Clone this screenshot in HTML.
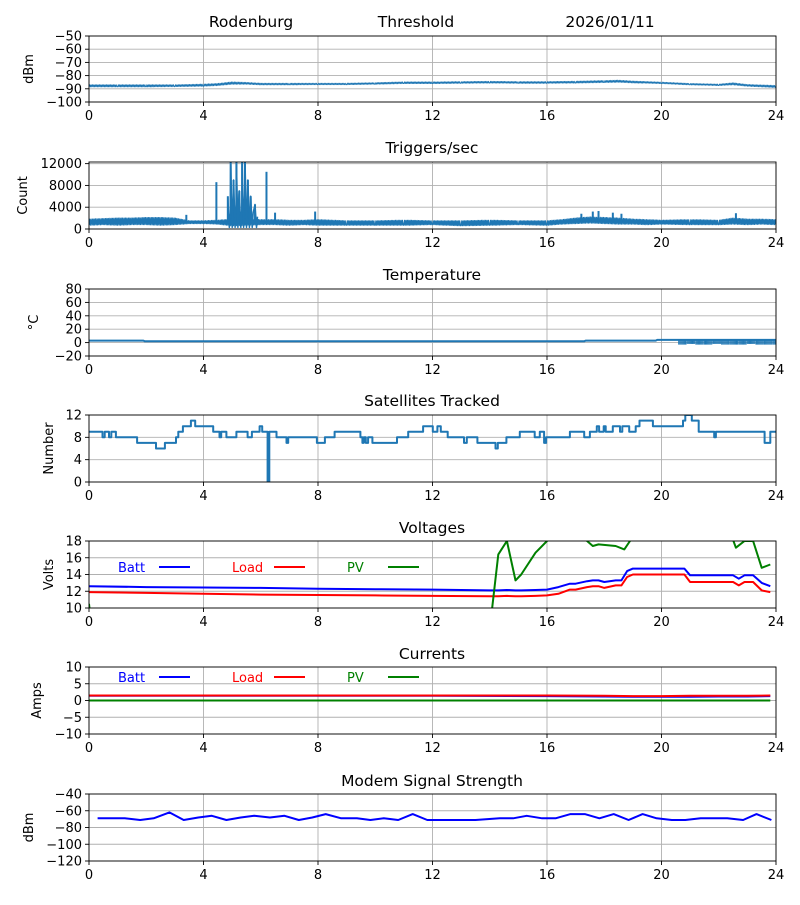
<!DOCTYPE html>
<html><head><meta charset="utf-8">
<style>
html,body{margin:0;padding:0;background:#fff;}
svg text{font-family:"DejaVu Sans","Liberation Sans",sans-serif;fill:#000;}
</style></head>
<body>
<svg id="fig" width="800" height="900" viewBox="0 0 800 900" xmlns="http://www.w3.org/2000/svg"></svg>
<script>
// ---------- DATA ----------
const xTicks = [0,4,8,12,16,20,24];
// Panel 1: threshold dBm band (hourly)
const dbmHours = [0,1,2,3,4,4.5,5,5.5,6,7,8,9,10,11,12,13,14,15,16,17,18,18.5,19,20,21,22,22.5,23,24];
const dbmLow   = [-88.5,-88.5,-88.5,-88.3,-88,-87.5,-86.5,-86.5,-87,-87,-86.8,-86.8,-86.5,-86,-86,-85.8,-85.6,-85.8,-85.8,-85.6,-85.2,-85,-85.5,-86,-87,-87.5,-87,-88,-89];
const dbmHigh  = [-87,-87,-87,-87,-86.5,-86,-84.8,-85.2,-85.8,-85.8,-85.8,-85.8,-85.4,-84.8,-84.8,-84.6,-84.4,-84.6,-84.6,-84.3,-83.8,-83.5,-84.2,-85,-86,-86.5,-85.5,-86.8,-87.5];
// Panel 2: triggers/sec band + spikes
const trigHours = [0,0.5,1,1.5,2,2.5,3,3.5,4,4.5,5,5.5,6,6.5,7,7.5,8,9,10,11,12,13,14,15,16,16.5,17,17.5,18,18.5,19,19.5,20,21,22,22.5,23,23.5,24];
const trigLow   = [700,800,700,800,800,700,800,1000,1000,900,600,700,800,800,700,800,700,700,700,700,800,600,700,800,700,900,1000,1100,1000,900,900,800,900,800,800,900,800,900,800];
const trigHigh  = [1800,1900,2000,2000,2100,2100,2000,1500,1500,1600,1800,1900,1700,1700,1600,1600,1700,1500,1500,1600,1500,1500,1600,1500,1500,1700,2000,2200,2100,2000,1800,1700,1600,1700,1600,2000,1800,1800,1700];
const trigSpikeHours = [3.4,4.45,4.85,4.95,5.05,5.15,5.25,5.35,5.45,5.55,5.65,5.8,6.2,6.5,7.9,17.2,17.6,17.8,18.3,18.6,22.6];
const trigSpikeVals  = [2600,8600,6000,12500,9000,12500,7000,12500,12500,9000,6000,4500,10500,3000,3200,2800,3200,3300,3000,2800,2900];
// Panel 3: temperature
const tempHours = [0,1.9,1.95,17.3,17.35,19.8,19.85,20.6,24];
const tempVals  = [3,3,2,2,3,3,4,4,4];
const tempNoiseHours = [20.6,20.9,21.2,21.5,21.8,22.1,22.4,22.7,23,23.3,23.6,23.9];
const tempNoiseVals  = [-3,-2,-3,-3,-2,-3,-3,-3,-2,-3,-3,-3];
// Panel 4: satellites (step: value holds from hour until next)
const satHours = [0,0.47,0.55,0.7,0.78,0.94,1.68,2.34,2.65,3.04,3.12,3.28,3.56,3.71,4.34,4.56,4.62,4.8,5.15,5.54,5.69,5.96,6.05,6.24,6.3,6.55,6.9,6.96,7.96,8.24,8.58,9.48,9.55,9.6,9.67,9.75,9.9,10.76,11.15,11.67,12.01,12.17,12.29,12.53,12.75,13.1,13.2,13.57,14.2,14.28,14.58,15.05,15.57,15.75,15.9,15.97,16.8,17.3,17.5,17.74,17.82,17.98,18.05,18.3,18.55,18.63,18.87,19.1,19.23,19.7,20.75,20.83,21.06,21.3,21.84,21.9,22.05,23.6,23.8,24];
const satVals  = [9,8,9,8,9,8,7,6,7,8,9,10,11,10,9,8,9,8,9,8,9,10,9,0,9,8,7,8,7,8,9,8,7,8,7,8,7,8,9,10,9,10,9,8,8,7,8,7,6,7,8,9,8,9,7,8,9,8,9,10,9,10,9,10,9,10,9,10,11,10,11,12,11,9,8,9,9,7,9,9];
// Panel 5: voltages
const voltHours = [0,2,4,6,8,10,12,14,14.3,14.6,14.9,15.1,15.6,16,16.4,16.8,17,17.4,17.6,17.8,18,18.4,18.6,18.8,19,20,20.8,21,22,22.5,22.7,22.9,23.2,23.5,23.8];
const battVals  = [12.6,12.5,12.45,12.4,12.3,12.25,12.2,12.1,12.1,12.15,12.1,12.1,12.15,12.2,12.5,12.9,12.9,13.2,13.3,13.3,13.1,13.3,13.3,14.4,14.7,14.7,14.7,13.9,13.9,13.9,13.5,13.9,13.9,13.0,12.6];
const loadVals  = [11.9,11.8,11.7,11.6,11.55,11.5,11.45,11.4,11.4,11.45,11.4,11.4,11.45,11.5,11.7,12.2,12.2,12.5,12.6,12.6,12.4,12.7,12.7,13.7,14.0,14.0,14.0,13.1,13.1,13.1,12.7,13.1,13.1,12.1,11.9];
const pvHours   = [0,0.05,14.05,14.3,14.6,14.9,15.1,15.6,16,16.5,17.3,17.6,17.8,18.4,18.7,18.9,19.3,22.3,22.6,22.9,23.2,23.5,23.8];
const pvVals    = [10.5,9,9,16.4,18,13.3,14,16.6,18,20,18.3,17.4,17.6,17.4,17,18,20,20,17.2,18,18,14.8,15.2];
// Panel 6: currents
const currHours = [0,4,8,12,16,18,19,20,21,22,23,23.8];
const battCurr  = [1.4,1.4,1.4,1.4,1.3,1.2,1.1,1.1,1.1,1.2,1.2,1.3];
const loadCurr  = [1.5,1.5,1.5,1.5,1.5,1.4,1.3,1.3,1.4,1.4,1.4,1.5];
const pvCurr    = [0,0,0,0,0,0,0,0,0,0,0,0];
// Panel 7: modem signal
const modemHours = [0.3,1.25,1.79,2.26,2.81,3.31,3.82,4.29,4.8,5.3,5.77,6.32,6.83,7.33,7.8,8.27,8.81,9.36,9.83,10.3,10.8,11.31,11.82,12.32,13.5,14.35,14.82,15.29,15.83,16.3,16.82,17.32,17.83,18.33,18.85,19.34,19.83,20.36,20.83,21.37,21.84,22.3,22.85,23.32,23.84];
const modemVals  = [-69,-69,-71,-69,-62,-71,-68,-66,-71,-68,-66,-68,-66,-71,-68,-64,-69,-69,-71,-69,-71,-64,-71,-71,-71,-69,-69,-66,-69,-69,-64,-64,-69,-64,-71,-64,-69,-71,-71,-69,-69,-69,-71,-64,-71];

// ---------- DRAWING ----------
const svg = document.getElementById('fig');
const NS = 'http://www.w3.org/2000/svg';
const X0 = 89, X1 = 776;
function mk(tag, attrs, parent){
  const e = document.createElementNS(NS, tag);
  for (const k in attrs) e.setAttribute(k, attrs[k]);
  (parent||svg).appendChild(e);
  return e;
}
function xs(h){ return X0 + (h/24)*(X1-X0); }

function panel(name, top, bottom, ymin, ymax, yticks, ylabel, ylabelX){
  const g = mk('g', {});
  
  
  const ys = v => bottom - (v-ymin)/(ymax-ymin)*(bottom-top);
  xTicks.forEach(t => {
    const l = mk('line', {x1:xs(t), x2:xs(t), y1:top, y2:bottom, stroke:'#b0b0b0', 'stroke-width':0.9}, g);
    
    
  });
  yticks.forEach(t => {
    const l = mk('line', {x1:X0, x2:X1, y1:ys(t), y2:ys(t), stroke:'#b0b0b0', 'stroke-width':0.9}, g);
    
    
  });
  xTicks.forEach(t => {
    mk('line', {x1:xs(t), x2:xs(t), y1:bottom, y2:bottom+4, stroke:'#000', 'stroke-width':0.9}, g);
    const tx = mk('text', {x:xs(t), y:bottom+18, 'font-size':13, 'text-anchor':'middle'}, g);
    tx.textContent = t;
    
    
  });
  yticks.forEach(t => {
    mk('line', {x1:X0-4, x2:X0, y1:ys(t), y2:ys(t), stroke:'#000', 'stroke-width':0.9}, g);
    const tx = mk('text', {x:X0-7, y:ys(t)+4.5, 'font-size':13, 'text-anchor':'end'}, g);
    tx.textContent = String(t).replace('-', '\u2212');
    
    
  });
  const yl = mk('text', {x:0, y:0, 'font-size':13, 'text-anchor':'middle', transform:`translate(${ylabelX},${(top+bottom)/2}) rotate(-90)`}, g);
  yl.textContent = ylabel;
  
  
  const clipId = 'clip-' + name;
  const cp = mk('clipPath', {id:clipId}, g);
  mk('rect', {x:X0, y:top, width:X1-X0, height:bottom-top}, cp);
  const plot = mk('g', {'clip-path':`url(#${clipId})`}, g);
  
  
  return {g, plot, ys, top, bottom,
    frame(){ const r = mk('rect', {x:X0, y:top, width:X1-X0, height:bottom-top, fill:'none', stroke:'#000', 'stroke-width':0.9}, g);
        }};
}
function title(text, x, y){
  const t = mk('text', {x, y, 'font-size':15.5, 'text-anchor':'middle'});
  t.textContent = text;
  
  
}
function line(parent, pts, color, w, name){
  const p = mk('polyline', {points:pts.map(q=>q[0].toFixed(1)+','+q[1].toFixed(1)).join(' '), fill:'none', stroke:color, 'stroke-width':w, 'stroke-linejoin':'round'}, parent);
  
  
  return p;
}
// dense band: vertical strokes between low and high every ~0.7px
function band(P, hours, lows, highs){
  const pts = [];
  for (let i=0;i<hours.length-1;i++){
    const h0 = hours[i], h1 = hours[i+1];
    const sub = Math.max(2, Math.round((xs(h1)-xs(h0))/0.7));
    for (let k=0;k<sub;k++){
      const f = k/sub, h = h0 + (h1-h0)*f;
      const lo = lows[i] + (lows[i+1]-lows[i])*f;
      const hi = highs[i] + (highs[i+1]-highs[i])*f;
      pts.push([xs(h), P.ys(k%2 ? hi : lo)]);
    }
  }
  pts.push([xs(hours[hours.length-1]), P.ys(lows[lows.length-1])]);
  return pts;
}
function legend(parent, y){
  const items = [['Batt','blue',118,159],['Load','red',232,274],['PV','green',347,388]];
  items.forEach(([lab,c,tx,lx]) => {
    const t = mk('text', {x:tx, y:y+5, 'font-size':13, fill:c}, parent);
    t.style.fill = c;
    t.textContent = lab;
    
    
    const l = mk('line', {x1:lx, x2:lx+31, y1:y, y2:y, stroke:c, 'stroke-width':2}, parent);
    
    
  });
}
const C = '#1f77b4';

// Panel 1
(function(){
  const P = panel('threshold', 36, 102, -100, -50, [-100,-90,-80,-70,-60,-50], 'dBm', 33);
  line(P.plot, band(P, dbmHours, dbmLow, dbmHigh), C, 1, 'threshold-line');
  P.frame();
  const t1 = mk('text', {x:251, y:27, 'font-size':15.5, 'text-anchor':'middle'}); t1.textContent='Rodenburg';
   
  const t2 = mk('text', {x:416, y:27, 'font-size':15.5, 'text-anchor':'middle'}); t2.textContent='Threshold';
   
  const t3 = mk('text', {x:610, y:27, 'font-size':15.5, 'text-anchor':'middle'}); t3.textContent='2026/01/11';
   
})();

// Panel 2
(function(){
  const P = panel('triggers', 162, 229, 0, 12300, [0,4000,8000,12000], 'Count', 27);
  line(P.plot, band(P, trigHours, trigLow, trigHigh), C, 1.2, 'triggers-line');
  trigSpikeHours.forEach((h,i) => {
    const l = mk('line', {x1:xs(h), x2:xs(h), y1:P.ys(1200), y2:P.ys(trigSpikeVals[i]), stroke:C, 'stroke-width':2}, P.plot);
    
    
  });
  const burst = [];
  for (let i=0;i<trigSpikeHours.length-1;i++){
    if (trigSpikeHours[i] >= 4.8 && trigSpikeHours[i] <= 5.8){
      burst.push([xs(trigSpikeHours[i]), P.ys(trigSpikeVals[i])]);
      burst.push([xs(trigSpikeHours[i])+1.5, P.ys(300)]);
      burst.push([xs(trigSpikeHours[i])+2.5, P.ys(trigSpikeVals[i]*0.5)]);
    }
  }
  line(P.plot, burst, C, 1.5, 'trigger-burst');
  P.frame();
  title('Triggers/sec', 432, 153);
})();

// Panel 3
(function(){
  const P = panel('temperature', 289, 356, -20, 80, [-20,0,20,40,60,80], '\u00B0C', 38);
  line(P.plot, tempHours.map((h,i)=>[xs(h), P.ys(tempVals[i])]), C, 2, 'temperature-line');
  tempNoiseHours.forEach((h,i)=>{
    for (let k=0;k<8;k++){
      const x = xs(h) + k*1.05;
      const l = mk('line', {x1:x, x2:x, y1:P.ys(4), y2:P.ys(tempNoiseVals[i]), stroke:C, 'stroke-width':1}, P.plot);
      
      
    }
  });
  P.frame();
  title('Temperature', 432, 280);
})();

// Panel 4
(function(){
  const P = panel('satellites', 415, 482, 0, 12, [0,4,8,12], 'Number', 53);
  const pts = [];
  satHours.forEach((h,i)=>{
    if (i>0) pts.push([xs(h), P.ys(satVals[i-1])]);
    pts.push([xs(h), P.ys(satVals[i])]);
  });
  line(P.plot, pts, C, 2, 'satellites-line');
  P.frame();
  title('Satellites Tracked', 432, 406);
})();

// Panel 5
(function(){
  const P = panel('voltages', 541, 608, 10, 18, [10,12,14,16,18], 'Volts', 53);
  line(P.plot, voltHours.map((h,i)=>[xs(h), P.ys(battVals[i])]), 'blue', 2, 'batt-voltage-line');
  line(P.plot, voltHours.map((h,i)=>[xs(h), P.ys(loadVals[i])]), 'red', 2, 'load-voltage-line');
  line(P.plot, pvHours.map((h,i)=>[xs(h), P.ys(pvVals[i])]), 'green', 2, 'pv-voltage-line');
  legend(P.g, 567);
  P.frame();
  title('Voltages', 432, 533);
})();

// Panel 6
(function(){
  const P = panel('currents', 667, 734, -10, 10, [-10,-5,0,5,10], 'Amps', 41);
  line(P.plot, currHours.map((h,i)=>[xs(h), P.ys(battCurr[i])]), 'blue', 2, 'batt-current-line');
  line(P.plot, currHours.map((h,i)=>[xs(h), P.ys(loadCurr[i])]), 'red', 2, 'load-current-line');
  line(P.plot, currHours.map((h,i)=>[xs(h), P.ys(pvCurr[i])]), 'green', 2, 'pv-current-line');
  legend(P.g, 677);
  P.frame();
  title('Currents', 432, 659);
})();

// Panel 7
(function(){
  const P = panel('modem', 794, 861, -120, -40, [-120,-100,-80,-60,-40], 'dBm', 33);
  line(P.plot, modemHours.map((h,i)=>[xs(h), P.ys(modemVals[i])]), 'blue', 2, 'modem-signal-line');
  P.frame();
  title('Modem Signal Strength', 432, 786);
})();
</script>
</body></html>
